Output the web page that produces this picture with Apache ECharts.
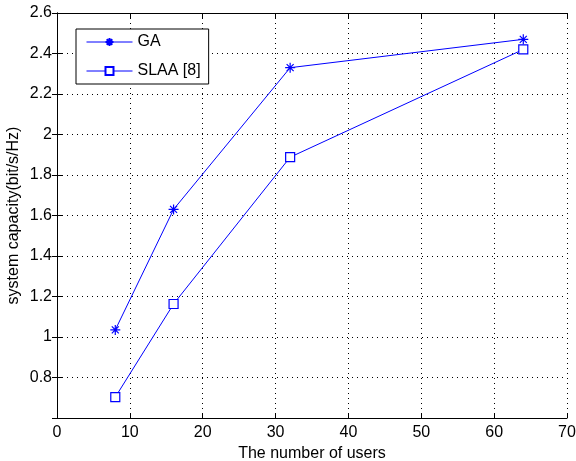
<!DOCTYPE html>
<html>
<head>
<meta charset="utf-8">
<script src="https://cdn.jsdelivr.net/npm/echarts@6/dist/echarts.min.js"></script>
<style>html,body{margin:0;padding:0;background:#fff;}#c{width:576px;height:461px;}</style>
</head>
<body>
<div id="c"></div>
<script>
var users = [8, 16, 32, 64];
var gaValues = [1.035, 1.63, 2.33, 2.47];
var slaaValues = [0.703, 1.163, 1.888, 2.42];
var seriesNames = ['GA', 'SLAA [8]'];
var xTitle = 'The number of users';
var yTitle = 'system capacity(bit/s/Hz)';

var FONT = 'Liberation Sans, Arial, Helvetica, sans-serif';
var BLUE = '#0000ff';
var star = 'path://M5,0L5,10M0,5L10,5M1.5,1.5L8.5,8.5M1.5,8.5L8.5,1.5';

var chart = echarts.init(document.getElementById('c'), null, {renderer: 'canvas'});
function pairs(xs, ys) { return xs.map(function (x, i) { return [x, ys[i]]; }); }

var baseX = {
  type: 'value', min: 0, max: 70, interval: 10,
  axisLine: {show: true, lineStyle: {color: '#000', width: 1}},
  axisTick: {show: true, inside: true, length: 5, lineStyle: {color: '#000'}},
};
var baseY = {
  type: 'value', min: 0.6, max: 2.6, interval: 0.2,
  axisLine: {show: true, lineStyle: {color: '#000', width: 1}},
  axisTick: {show: true, inside: true, length: 5, lineStyle: {color: '#000'}},
};

chart.setOption({
  animation: false,
  backgroundColor: '#fff',
  textStyle: {fontFamily: FONT},
  grid: {left: 57, right: 9, top: 13, bottom: 43, containLabel: false, outerBoundsMode: 'none'},
  legend: {
    orient: 'vertical', left: 76, top: 29,
    width: 132, height: 51,
    padding: [5, 8, 5, 10],
    itemWidth: 46, itemHeight: 10, itemGap: 13,
    backgroundColor: '#fff', borderColor: '#000', borderWidth: 1,
    lineStyle: {width: 1},
    textStyle: {fontFamily: FONT, fontSize: 16, color: '#000'},
    data: seriesNames
  },
  xAxis: [
    Object.assign({}, baseX, {
      position: 'bottom',
      name: xTitle, nameLocation: 'middle', nameGap: 28, nameMoveOverlap: false,
      nameTextStyle: {fontFamily: FONT, fontSize: 16, color: '#000'},
      axisLabel: {color: '#000', fontSize: 16, fontFamily: FONT, margin: 7},
      splitLine: {show: true, lineStyle: {color: '#000', type: [1, 4], width: 1}}
    }),
    Object.assign({}, baseX, {
      position: 'top', axisLabel: {show: false}, splitLine: {show: false}
    })
  ],
  yAxis: [
    Object.assign({}, baseY, {
      position: 'left',
      name: yTitle, nameLocation: 'middle', nameGap: 35, nameMoveOverlap: false,
      nameTextStyle: {fontFamily: FONT, fontSize: 16, color: '#000'},
      axisLabel: {color: '#000', fontSize: 16, fontFamily: FONT, margin: 5, showMinLabel: false,
        formatter: function (v) { return String(Math.round(v * 10) / 10); }},
      splitLine: {show: true, lineStyle: {color: '#000', type: [1, 4], width: 1}}
    }),
    Object.assign({}, baseY, {
      position: 'right', axisLabel: {show: false}, splitLine: {show: false}
    })
  ],
  series: [
    {
      name: seriesNames[0], type: 'line', data: pairs(users, gaValues),
      symbol: star, symbolSize: 10,
      lineStyle: {color: BLUE, width: 1},
      itemStyle: {color: 'none', borderColor: BLUE, borderWidth: 1.2},
      emphasis: {disabled: true}
    },
    {
      name: seriesNames[1], type: 'line', data: pairs(users, slaaValues),
      symbol: 'rect', symbolSize: 9,
      lineStyle: {color: BLUE, width: 1},
      itemStyle: {color: '#fff', borderColor: BLUE, borderWidth: 1.2},
      emphasis: {disabled: true}
    }
  ]
});
</script>
</body>
</html>
